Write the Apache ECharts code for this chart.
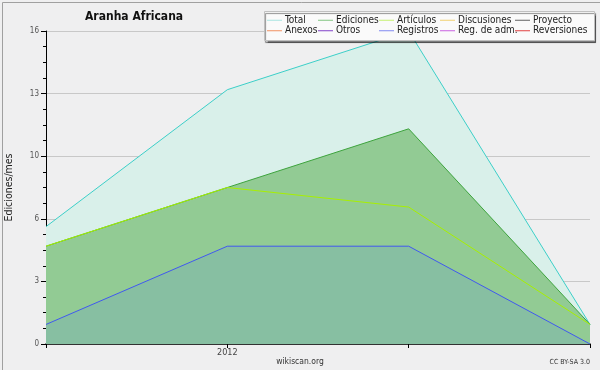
<!DOCTYPE html>
<html><head><meta charset="utf-8">
<script src="https://cdn.jsdelivr.net/npm/echarts@6/dist/echarts.min.js"></script>
<style>html,body{margin:0;padding:0;background:#efeff0;}#c{width:600px;height:370px;}</style>
</head><body><div id="c"></div>
<script>
const FONT = "'DejaVu Sans Condensed','DejaVu Sans',sans-serif";
const categories = ['2011-12', '2012-01', '2012-02', '2012-03'];
const xTickLabels = ['', '2012', '', ''];
const total = [6, 13, 16, 1];
const ediciones = [5, 8, 11, 1];
const articulos = [5, 8, 7, 1];
const registros = [1, 5, 5, 0];
const legendColumns = [
  ['Total', 'Anexos'],
  ['Ediciones', 'Otros'],
  ['Artículos', 'Registros'],
  ['Discusiones', 'Reg. de adm.'],
  ['Proyecto', 'Reversiones']
];
const legendColors = {
  'Total': '#a8e4e0', 'Ediciones': '#80c480', 'Artículos': '#c4f070', 'Discusiones': '#f0d070',
  'Proyecto': '#606060', 'Anexos': '#f09060', 'Otros': '#8040c8', 'Registros': '#8088f0',
  'Reg. de adm.': '#c860e0', 'Reversiones': '#e04040'
};
const legendLeft = [267, 318, 379, 440, 515];

const chart = echarts.init(document.getElementById('c'));
const emptyNames = ['Discusiones', 'Proyecto', 'Anexos', 'Otros', 'Reg. de adm.', 'Reversiones'];
const series = [
  {name: 'Total', type: 'line', data: total, symbol: 'none', z: 1,
   lineStyle: {color: '#3ccfc8', width: 1}, itemStyle: {color: '#3ccfc8'},
   areaStyle: {color: '#d9f0ea', opacity: 1}},
  {name: 'Ediciones', type: 'line', data: ediciones, symbol: 'none', z: 2,
   lineStyle: {color: '#3ea43e', width: 1}, itemStyle: {color: '#3ea43e'},
   areaStyle: {color: '#92cb94', opacity: 1}},
  {name: 'Artículos', type: 'line', data: articulos, symbol: 'none', z: 3,
   lineStyle: {color: '#a8f000', width: 1}, itemStyle: {color: '#a8f000'}},
  {name: 'Registros', type: 'line', data: registros, symbol: 'none', z: 4,
   lineStyle: {color: '#4058f0', width: 1}, itemStyle: {color: '#4058f0'},
   areaStyle: {color: '#87bfa2', opacity: 1}}
];
emptyNames.forEach(n => series.push({name: n, type: 'line', data: [], symbol: 'none', itemStyle: {color: legendColors[n]}}));

const legends = legendColumns.map((col, i) => ({
  orient: 'vertical', left: legendLeft[i], top: 15, padding: 0, itemGap: 0, z: 20,
  itemWidth: 15, itemHeight: 1, icon: 'rect', selectedMode: false,
  data: col.map(n => ({name: n, itemStyle: {color: legendColors[n]}})),
  textStyle: {fontFamily: FONT, fontSize: 10, lineHeight: 10.5, color: '#222', padding: [0, 0, 0, -2]}
}));

chart.setOption({
  animation: false,
  backgroundColor: '#efeff0',
  title: {text: 'Aranha Africana', left: 85, top: 11, padding: 0,
    textStyle: {fontFamily: FONT, fontSize: 12, fontWeight: 'bold', color: '#111'}},
  legend: legends,
  grid: {left: 46, right: 10, top: 31, bottom: 26, containLabel: false, outerBoundsMode: 'none'},
  xAxis: {
    type: 'category', data: categories, boundaryGap: false,
    axisLine: {lineStyle: {color: '#000', width: 1.5}},
    axisTick: {show: true, length: 4, lineStyle: {color: '#000'}},
    axisLabel: {interval: 0, margin: 4, fontFamily: FONT, fontSize: 9, color: '#444',
      formatter: (v, i) => xTickLabels[i]},
    splitLine: {show: false}
  },
  yAxis: {
    type: 'value', min: 0, max: 16, interval: 3.2,
    name: 'Ediciones/mes', nameLocation: 'middle', nameGap: 31, nameRotate: 90,
    nameTextStyle: {fontFamily: FONT, fontSize: 10.5, color: '#222'},
    axisLine: {show: true, lineStyle: {color: '#000', width: 1}},
    axisTick: {show: true, length: 5, lineStyle: {color: '#000'}},
    minorTick: {show: true, splitNumber: 4, length: 3, lineStyle: {color: '#000'}},
    axisLabel: {margin: 7, fontFamily: FONT, fontSize: 8, color: '#555',
      formatter: v => String(Math.round(v))},
    splitLine: {show: true, lineStyle: {color: '#c8c8c8', width: 1}}
  },
  graphic: [
    {type: 'rect', left: 0, top: 0, z: -10, silent: true,
     shape: {x: 0.5, y: 0.5, width: 599, height: 369},
     style: {fill: 'none', stroke: '#a0a0a0', lineWidth: 1}},
    {type: 'rect', z: 10, silent: true,
     shape: {x: 264.5, y: 11.5, width: 330, height: 29},
     style: {fill: '#fafafa', stroke: '#c0c0c0', lineWidth: 1, shadowColor: 'rgba(0,0,0,0.45)', shadowOffsetX: 1, shadowOffsetY: 2, shadowBlur: 1}},
    {type: 'text', z: 5, silent: true, x: 300, y: 362,
     style: {text: 'wikiscan.org', fontFamily: FONT, fontSize: 8.5, fill: '#333', textAlign: 'center', textVerticalAlign: 'middle'}},
    {type: 'text', z: 5, silent: true, x: 590, y: 362,
     style: {text: 'CC BY-SA 3.0', fontFamily: FONT, fontSize: 7, fill: '#333', textAlign: 'right', textVerticalAlign: 'middle'}}
  ],
  series: series
});
</script></body></html>
